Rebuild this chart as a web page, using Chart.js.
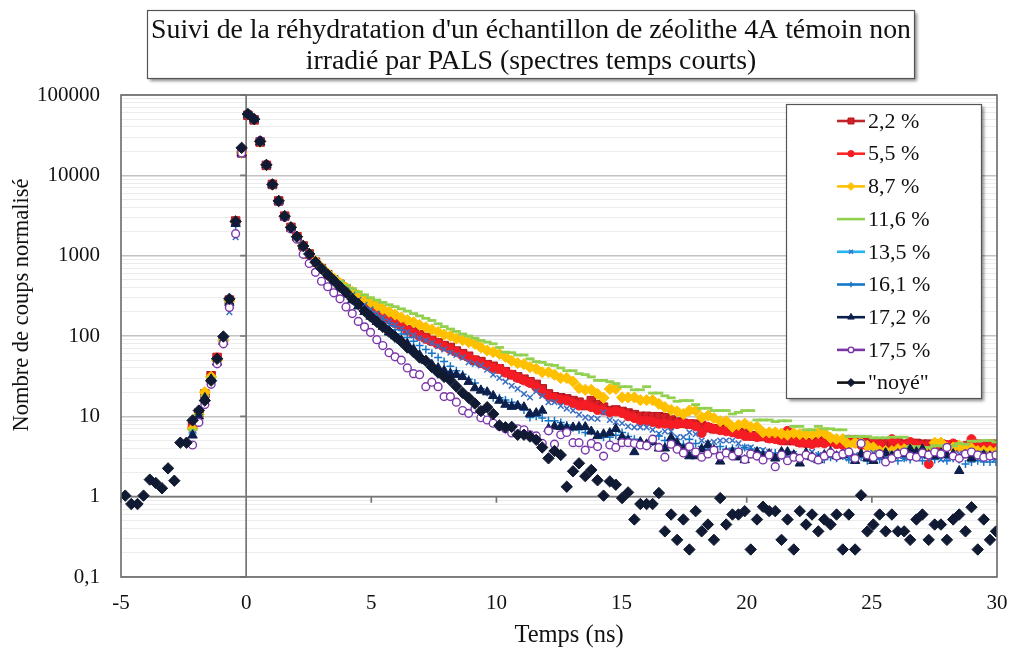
<!DOCTYPE html>
<html lang="fr">
<head>
<meta charset="utf-8">
<title>Suivi de la réhydratation - PALS</title>
<script src="https://cdn.jsdelivr.net/npm/chart.js@4.4.1/dist/chart.umd.min.js"></script>
<style>
  html, body { margin: 0; padding: 0; background: #fff; }
  #wrap { width: 1013px; height: 653px; }
</style>
</head>
<body>
<div id="wrap"><canvas id="chart" width="1013" height="653"></canvas></div>
<script>
/* PALS - spectres temps courts, zéolithe 4A témoin */

// canaux de temps (ns)
const temps = [
  -4.83, -4.59, -4.34, -4.10, -3.85, -3.61, -3.36, -3.12, -2.87, -2.63,
  -2.38, -2.14, -1.89, -1.65, -1.40, -1.16, -0.91, -0.67, -0.42, -0.18,
  0.07, 0.32, 0.56, 0.81, 1.05, 1.30, 1.54, 1.79, 2.03, 2.28,
  2.52, 2.77, 3.01, 3.26, 3.50, 3.75, 3.99, 4.24, 4.48, 4.73,
  4.97, 5.22, 5.46, 5.71, 5.95, 6.20, 6.44, 6.69, 6.93, 7.18,
  7.42, 7.67, 7.91, 8.16, 8.40, 8.65, 8.89, 9.14, 9.38, 9.63,
  9.87, 10.12, 10.36, 10.61, 10.85, 11.10, 11.34, 11.59, 11.83, 12.08,
  12.32, 12.57, 12.81, 13.06, 13.30, 13.55, 13.79, 14.04, 14.28, 14.53,
  14.77, 15.02, 15.26, 15.51, 15.75, 16.00, 16.24, 16.49, 16.73, 16.98,
  17.22, 17.47, 17.71, 17.96, 18.20, 18.45, 18.69, 18.94, 19.18, 19.43,
  19.67, 19.92, 20.16, 20.41, 20.65, 20.90, 21.14, 21.39, 21.63, 21.88,
  22.12, 22.37, 22.61, 22.86, 23.10, 23.35, 23.59, 23.84, 24.08, 24.33,
  24.57, 24.82, 25.06, 25.31, 25.55, 25.80, 26.04, 26.29, 26.53, 26.78,
  27.02, 27.27, 27.51, 27.76, 28.00, 28.25, 28.49, 28.74, 28.98, 29.23,
  29.47, 29.72, 29.96
];
// les échantillons hydratés commencent au canal 11 (-2,14 ns)
const debut = 11;

const serie22 = [
  7.5, 11, 19, 32, 54, 90, 280, 2700, 19000, 56000,
  49000, 26000, 13300, 7700, 4800, 3100, 2250, 1720, 1320, 1050,
  830, 690, 580, 500, 440, 385, 335, 290, 255, 224,
  200, 180, 163, 150, 136, 120, 112, 104, 96, 88,
  82, 76, 72, 65, 60, 56, 50, 48, 44, 42,
  39, 36, 33, 31, 29, 27, 25, 22, 19, 17.5,
  17, 16.5, 15.7, 15, 13.6, 15.7, 14, 13, 11.8, 12,
  11.5, 11, 10.5, 10, 10, 9.9, 9.9, 9.6, 9, 8.5,
  8.2, 8, 8, 7.7, 7.2, 7, 7, 6.8, 6.8, 6.3,
  6.3, 5.7, 5.7, 5.6, 5.4, 5.4, 5.1, 5.0, 5.0, 4.8,
  4.7, 4.7, 4.8, 5.0, 5.0, 4.9, 4.8, 5.1, 5.1, 5.0,
  4.8, 4.7, 4.7, 4.8, 4.6, 4.7, 4.5, 4.6, 4.6, 4.5,
  4.5, 4.4, 4.5, 4.3, 4.4, 4.2, 4.2, 4.5, 4.5, 4.4,
  4.5, 4.5
];
const serie55 = [
  7.2, 11, 18, 31, 54, 90, 275, 2700, 19500, 57000,
  50000, 26500, 13500, 7800, 4800, 3100, 2250, 1720, 1320, 1050,
  830, 690, 580, 495, 430, 375, 325, 285, 250, 220,
  196, 176, 160, 145, 132, 118, 108, 100, 92, 86,
  80, 74, 68, 63, 58, 54, 50, 46, 43, 40,
  39, 35, 33, 30, 28, 26, 23, 20, 18, 17,
  16, 15.7, 14.5, 13.6, 14, 13, 12, 11.8, 11.2, 11.5,
  11, 10, 9.5, 8.8, 8.8, 8.5, 8.1, 8.1, 7.8, 8,
  8.2, 8, 7.5, 6.2, 7.4, 7, 6.7, 6.5, 6.3, 6,
  5.7, 5.7, 5.5, 5.7, 5.3, 5.2, 5, 6.6, 5, 4.7,
  4.6, 4.5, 4.7, 4.6, 4.8, 4.5, 4.4, 5.1, 4.7, 4.4,
  4.3, 4.5, 4.4, 3.6, 5.2, 4.6, 4.3, 4.8, 4.4, 4.2,
  2.55, 4.4, 4.2, 4.4, 4.6, 4.2, 4.3, 5.2, 4.3, 4.2,
  4.2, 4.2
];
const serie87 = [
  7.0, 10.5, 20, 31, 50, 88, 275, 2650, 19000, 57000,
  50000, 26200, 13400, 7700, 4800, 3100, 2250, 1730, 1330, 1060,
  850, 710, 600, 520, 455, 400, 355, 320, 290, 265,
  240, 217, 200, 185, 170, 158, 148, 137, 128, 120,
  112, 104, 100, 93, 89, 84, 80, 72, 66, 63,
  60, 55, 49, 46, 44.6, 41, 39, 35.4, 35.4, 33,
  30, 30, 27, 22.5, 21.4, 21.4, 19, 17, 21.9, 22,
  17.2, 17.2, 17.2, 15.9, 15.9, 15.9, 14.3, 13, 12, 11.5,
  10.7, 11.8, 11.8, 9.7, 10.2, 9.5, 8.7, 8.7, 7.4, 7.8,
  8.1, 7.4, 7.4, 6.3, 6.3, 6.3, 6.1, 5.9, 6.2, 6,
  6, 6, 6.2, 6.2, 5.4, 5.2, 5.2, 4.4, 4.7, 4.7,
  4.3, 4.1, 3.7, 3.7, 3.7, 3.9, 3.9, 3.9, 3.4, 3.6,
  3.6, 4.7, 4.7, 4.1, 4.1, 4.3, 3.9, 4.0, 3.7, 3.7,
  3.7, 3.6
];
const serie116 = [
  6.8, 10.5, 18, 30, 50, 88, 270, 2600, 19500, 57000,
  50000, 26500, 13500, 7700, 4850, 3150, 2280, 1760, 1350, 1080,
  870, 730, 620, 540, 480, 430, 390, 355, 325, 300,
  280, 262, 245, 232, 218, 204, 190, 178, 166, 156,
  142, 131, 122, 114, 106, 100, 94, 88, 84, 80,
  72, 63, 62, 58, 58, 52, 48, 47, 44, 43,
  40, 37, 37, 34, 33, 31, 28, 28, 27, 25.6,
  23.4, 23.4, 21.4, 21.4, 23.4, 19.5, 19.5, 18, 17, 15.4,
  15.7, 15.7, 14, 12.6, 12.6, 11.8, 11.8, 11.8, 10.7, 11.2,
  11.8, 11.8, 9, 9, 9, 8.6, 8.8, 8.8, 7.5, 7.5,
  6.8, 6.8, 7.5, 7, 7, 6.8, 6.8, 5.6, 5.6, 5.6,
  5.6, 5.4, 5.4, 5.4, 5.5, 5.5, 5.5, 4.2, 4.2, 4.1,
  4.1, 4.3, 4.3, 4.3, 4.3, 4.6, 4.5, 4.9, 4.9, 5,
  5, 4.8
];
const serie135 = [
  6.0, 10, 16, 28, 48, 85, 198, 1700, 18000, 56000,
  50000, 26000, 13300, 7700, 4800, 3100, 2250, 1720, 1320, 1050,
  830, 690, 580, 495, 425, 370, 320, 280, 245, 215,
  190, 170, 152, 138, 124, 112, 102, 94, 88, 82,
  75, 68, 62, 58, 54, 47, 45, 43, 38, 33,
  30, 27, 24, 22, 19, 17.2, 20.5, 18, 15, 15,
  13.5, 12.5, 11.8, 10.5, 9.7, 9.5, 9.3, 11.2, 9, 8.5,
  8.2, 7.5, 7.3, 7.3, 7.3, 6.8, 6.1, 6.5, 6.5, 5.5,
  5.5, 6.3, 6, 5, 4.6, 4.8, 5, 5, 5, 4.6,
  4.1, 4.1, 3.8, 3.8, 3.6, 3.2, 3.5, 3.3, 3.4, 3.0,
  3.2, 3.6, 3.3, 3.1, 3.4, 3.2, 3.2, 3.0, 3.3, 3.2,
  3.2, 3.5, 3.1, 3.2, 3.4, 3.3, 3.0, 3.7, 3.5, 3.2,
  3.3, 3.5, 2.9, 3.1, 3.2, 3.4, 3.3, 3.2, 3.4, 3.4,
  3.1, 3.0
];
const serie161 = [
  6.2, 10.5, 17, 29, 50, 88, 250, 2400, 18500, 56000,
  50000, 26000, 13300, 7700, 4800, 3100, 2250, 1720, 1320, 1050,
  830, 680, 570, 480, 410, 350, 300, 260, 225, 195,
  170, 150, 134, 120, 106, 96, 86, 76, 68, 61,
  54, 48, 42, 37, 33.5, 29, 26, 22, 20, 17,
  17, 16, 15, 14, 12, 9.7, 10, 9.5, 8.8, 8.8,
  8.4, 7.8, 7.2, 6.8, 6.3, 6.5, 6, 5.5, 5.5, 5.8,
  6.3, 5.6, 5.2, 4.8, 4.5, 4.8, 5.7, 5, 4.8, 4.5,
  4.5, 5.2, 4.6, 4.2, 3.9, 4.1, 4.2, 3.9, 4.0, 3.9,
  4.1, 3.9, 3.4, 3.6, 3.3, 3.5, 3.2, 3.1, 3.4, 3.0,
  3.2, 3.0, 3.3, 2.9, 3.1, 3.0, 3.2, 2.9, 3.0, 3.1,
  2.8, 3.1, 2.9, 3.0, 3.2, 2.8, 3.0, 2.9, 3.1, 2.8,
  3.0, 2.9, 3.1, 2.8, 3.0, 2.9, 2.55, 2.7, 2.8, 2.7,
  2.7, 2.7
];
const serie172 = [
  5.8, 10, 17, 29, 47, 85, 260, 2500, 19000, 57000,
  50000, 26000, 13400, 7700, 4800, 3100, 2250, 1720, 1320, 1050,
  830, 690, 575, 480, 395, 330, 280, 235, 200, 175,
  150, 130, 111, 100, 88, 80, 68, 58, 49, 44,
  40, 37, 34, 33, 31, 27, 22.5, 21, 20, 18,
  15.7, 14, 13.2, 13.5, 13, 10.7, 11, 11.8, 7, 7.5,
  7.4, 7.2, 7.3, 7.4, 7.4, 6.5, 5.7, 6.0, 6.2, 7,
  5.5, 5.0, 3.6, 4.8, 4.5, 4.8, 4.0, 4.0, 5.4, 4.6,
  3.9, 3.2, 3.2, 3.9, 4.4, 3.8, 2.75, 3.5, 3.6, 3.1,
  2.86, 3.3, 3.6, 3.2, 3.4, 3.0, 3.6, 3.6, 3.3, 2.6,
  3.5, 3.1, 2.86, 3.3, 3.6, 3.2, 3.3, 3.5, 2.8, 3.4,
  3.0, 2.8, 3.3, 3.5, 3.2, 3.4, 3.4, 3.9, 3.6, 3.9,
  3.3, 3.2, 3.5, 3.3, 3.4, 2.1, 3.3, 3.0, 3.2, 3.3,
  3.2, 3.2
];
const serie175 = [
  4.4, 8.4, 14, 25, 45, 80, 227, 1880, 19000, 57000,
  50000, 27000, 13400, 7700, 4700, 3000, 2150, 1600, 1040, 800,
  620, 480, 410, 345, 290, 230, 190, 152, 130, 111,
  90, 76, 62, 55, 50, 40, 34, 33, 23.4, 26.6,
  23.4, 17.6, 17.6, 15, 11.8, 10.9, 12.3, 9.6, 9, 8.2,
  7.5, 7, 6.2, 7, 6.8, 5.9, 5.7, 4.6, 6.6, 4.5,
  5.9, 6.3, 4.7, 4.7, 3.8, 4.6, 4.2, 3.2, 4.4, 4.1,
  4.7, 4.7, 4.6, 4.4, 4.3, 5.2, 4.1, 3.1, 4.5, 3.9,
  3.5, 4.2, 3.6, 3.1, 3.4, 3.8, 3.2, 3.5, 3.2, 3.6,
  2.9, 3.4, 3.2, 2.86, 3.3, 2.36, 3.3, 2.8, 3.1, 3.0,
  3.3, 3.1, 2.86, 3.2, 3.5, 3.2, 3.4, 3.6, 3.0, 4.6,
  3.3, 3.1, 3.4, 2.7, 3.0, 3.4, 3.6, 3.2, 3.1, 3.5,
  3.3, 3.6, 3.4, 4.1, 3.2, 3.0, 3.4, 3.6, 3.3, 3.1,
  3.2, 3.3
];
// échantillon noyé : tous les canaux depuis -4,83 ns
const serieNoye = [
  1.03, 0.81, 0.81, 1.03, 1.63, 1.48, 1.27, 2.25, 1.58, 4.7,
  4.7, 8.9, 11.8, 15.7, 27.8, 52, 98.5, 290, 2670, 22000,
  58000, 50000, 26500, 13500, 7700, 4800, 3100, 2250, 1720, 1320,
  1050, 830, 690, 580, 490, 410, 350, 290, 250, 205,
  175, 150, 130, 113, 98, 85, 72, 63, 54, 49,
  41, 35, 31, 28, 23.5, 19.6, 17, 14.4, 11.6, 13,
  10.7, 7.7, 7.3, 7.4, 5.9, 5.9, 5.6, 5.1, 4.1, 3.0,
  3.7, 3.3, 1.33, 2.07, 2.6, 1.8, 2.15, 1.6, 1.03, 1.55,
  1.41, 0.96, 1.13, 0.52, 0.81, 0.81, 0.81, 1.11, 0.37, 0.6,
  0.29, 0.52, 0.22, 0.66, 0.37, 0.45, 0.29, 0.96, 0.45, 0.6,
  0.6, 0.66, 0.22, 0.52, 0.75, 0.66, 0.66, 0.29, 0.52, 0.22,
  0.66, 0.45, 0.6, 0.37, 0.52, 0.45, 0.6, 0.22, 0.6, 0.22,
  1.04, 0.37, 0.45, 0.6, 0.37, 0.6, 0.37, 0.37, 0.29, 0.52,
  0.6, 0.29, 0.45, 0.45, 0.29, 0.52, 0.6, 0.37, 0.74, 0.22,
  0.52, 0.29, 0.37
];

const nomsSeries = ['2,2 %', '5,5 %', '8,7 %', '11,6 %', '13,5 %', '16,1 %', '17,2 %', '17,5 %', '"noyé"'];
const valeursSeries = [serie22, serie55, serie87, serie116, serie135, serie161, serie172, serie175, serieNoye];

const xTicks = [-5, 0, 5, 10, 15, 20, 25, 30];
const decades = [0.1, 1, 10, 100, 1000, 10000, 100000];
const decadeLabels = ['0,1', '1', '10', '100', '1000', '10000', '100000'];

const titre = ["Suivi de la réhydratation d'un échantillon de zéolithe 4A témoin non",
               'irradié par PALS (spectres temps courts)'];
const titreX = 'Temps (ns)';
const titreY = 'Nombre de coups normalisé';

// apparence des séries (marqueur, couleurs)
const styles = [
  { pt: 'rect',     r: 6.0, fill: '#d81e27', stroke: '#b3141c', bw: 1,   line: '#c0272d' },
  { pt: 'circle',   r: 4.5, fill: '#f51c24', stroke: '#f51c24', bw: 1,   line: '#ff2626' },
  { pt: 'rectRot',  r: 5.6, fill: '#ffc000', stroke: '#ffc000', bw: 1,   line: '#ffc000' },
  { pt: 'line',     r: 4.5, fill: '#92d050', stroke: '#92d050', bw: 2.8, line: '#92d050' },
  { pt: 'crossRot', r: 4.0, fill: '#3a6fc4', stroke: '#3a6fc4', bw: 1.5, line: '#22b4ee' },
  { pt: 'cross',    r: 4.0, fill: '#1476c8', stroke: '#1476c8', bw: 1.5, line: '#1476c8' },
  { pt: 'triangle', r: 5.4, fill: '#0d1f4c', stroke: '#0d1f4c', bw: 1,   line: '#0d1f4c' },
  { pt: 'circle',   r: 3.9, fill: '#ffffff', stroke: '#7a35a8', bw: 1.4, line: '#7a35a8' },
  { pt: 'rectRot',  r: 5.7, fill: '#111a33', stroke: '#111a33', bw: 1,   line: '#111111' }
];

const SERIF = '"Liberation Serif", "Times New Roman", serif';

const datasets = valeursSeries.map((vals, k) => {
  const t0 = vals.length === temps.length ? 0 : debut;
  const s = styles[k];
  return {
    label: nomsSeries[k],
    data: vals.map((v, j) => ({ x: temps[t0 + j], y: v })),
    showLine: false,
    pointStyle: s.pt,
    pointRadius: s.r,
    pointHoverRadius: s.r,
    pointBackgroundColor: s.fill,
    pointBorderColor: s.stroke,
    pointBorderWidth: s.bw,
    order: valeursSeries.length - 1 - k
  };
});

function boxWithShadow(ctx, x, y, w, h) {
  ctx.save();
  ctx.shadowColor = 'rgba(0,0,0,0.45)';
  ctx.shadowOffsetX = 3; ctx.shadowOffsetY = 3; ctx.shadowBlur = 3;
  ctx.fillStyle = '#fff';
  ctx.fillRect(x, y, w, h);
  ctx.restore();
  ctx.strokeStyle = '#555';
  ctx.lineWidth = 1.2;
  ctx.strokeRect(x + 0.5, y + 0.5, w, h);
}

const cadrePlugin = {
  id: 'cadre',
  beforeDatasetsDraw(chart) {
    const { ctx, chartArea: a, scales: { x, y } } = chart;
    const x0 = x.getPixelForValue(0), y1 = y.getPixelForValue(1);
    ctx.save();
    ctx.strokeStyle = '#767676';
    ctx.lineWidth = 1.7;
    ctx.beginPath();
    ctx.moveTo(x0, a.top); ctx.lineTo(x0, a.bottom);
    ctx.moveTo(a.left, y1); ctx.lineTo(a.right, y1);
    decades.forEach(d => { const py = y.getPixelForValue(d); ctx.moveTo(x0 - 6, py); ctx.lineTo(x0, py); });
    xTicks.forEach(v => { const px = x.getPixelForValue(v); ctx.moveTo(px, y1); ctx.lineTo(px, y1 + 6); });
    ctx.stroke();
    ctx.restore();
  },
  afterDatasetsDraw(chart) {
    const { ctx, chartArea: a } = chart;
    ctx.save();
    ctx.strokeStyle = '#6a6a6a';
    ctx.lineWidth = 1.6;
    ctx.strokeRect(a.left, a.top, a.right - a.left, a.bottom - a.top);
    ctx.restore();
  },
  afterDraw(chart) {
    const ctx = chart.ctx;
    ctx.save();
    // titre encadré
    boxWithShadow(ctx, 147, 10, 767, 68);
    ctx.fillStyle = '#111';
    ctx.font = '27.8px ' + SERIF;
    ctx.textAlign = 'center';
    ctx.textBaseline = 'middle';
    ctx.fillText(titre[0], 531, 31);
    ctx.fillText(titre[1], 531, 62);

    // titres des axes
    ctx.font = '24.5px ' + SERIF;
    ctx.fillText(titreX, 569, 636);
    ctx.font = '22.5px ' + SERIF;
    ctx.save();
    ctx.translate(22, 305);
    ctx.rotate(-Math.PI / 2);
    ctx.fillText(titreY, 0, 0);
    ctx.restore();

    // légende
    boxWithShadow(ctx, 786, 104, 195, 294);
    ctx.textAlign = 'left';
    ctx.font = '22px ' + SERIF;
    nomsSeries.forEach((nom, k) => {
      const s = styles[k];
      const yy = 121 + k * 32.7;
      ctx.strokeStyle = s.line;
      ctx.lineWidth = 2.6;
      ctx.beginPath();
      ctx.moveTo(837, yy); ctx.lineTo(865, yy);
      ctx.stroke();
      if (s.pt !== 'line' && Chart.helpers && Chart.helpers.drawPoint) {
        ctx.fillStyle = s.fill;
        ctx.strokeStyle = s.stroke;
        ctx.lineWidth = s.bw;
        Chart.helpers.drawPoint(ctx, { pointStyle: s.pt, radius: s.r * 0.7, rotation: 0, borderWidth: s.bw }, 851, yy);
      }
      ctx.fillStyle = '#111';
      ctx.fillText(nom, 868, yy + 1);
    });
    ctx.restore();
  }
};

new Chart(document.getElementById('chart'), {
  type: 'scatter',
  data: { datasets },
  options: {
    responsive: false,
    animation: false,
    events: [],
    layout: { padding: { top: 95, right: 16, left: 0, bottom: 0 } },
    plugins: { legend: { display: false }, title: { display: false }, tooltip: { enabled: false } },
    scales: {
      x: {
        type: 'linear', min: -5, max: 30,
        afterBuildTicks: s => { s.ticks = xTicks.map(v => ({ value: v })); },
        afterFit: s => { s.height = 76; s.paddingRight = 0; s.paddingLeft = 0; },
        grid: { display: false, drawTicks: false },
        border: { display: false },
        ticks: { padding: 14, color: '#111', font: { family: SERIF, size: 21 }, callback: v => String(v) }
      },
      y: {
        type: 'logarithmic', min: 0.1, max: 100000,
        afterBuildTicks: s => {
          const t = [];
          decades.forEach(d => {
            if (d === 100000) { t.push({ value: d }); return; }
            for (let m = 1; m <= 9; m++) t.push({ value: +(m * d).toPrecision(3) });
          });
          s.ticks = t;
        },
        afterFit: s => { s.width = 121; s.paddingTop = 0; s.paddingBottom = 0; },
        grid: {
          drawTicks: false,
          color: c => decades.includes(c.tick.value) ? '#c4c4c4' : '#ececec',
          lineWidth: c => decades.includes(c.tick.value) ? 1.4 : 1
        },
        border: { display: false },
        ticks: {
          autoSkip: false, padding: 21, color: '#111',
          font: { family: SERIF, size: 21 },
          callback: v => { const i = decades.indexOf(v); return i >= 0 ? decadeLabels[i] : ''; }
        }
      }
    }
  },
  plugins: [cadrePlugin]
});
</script>
</body>
</html>
